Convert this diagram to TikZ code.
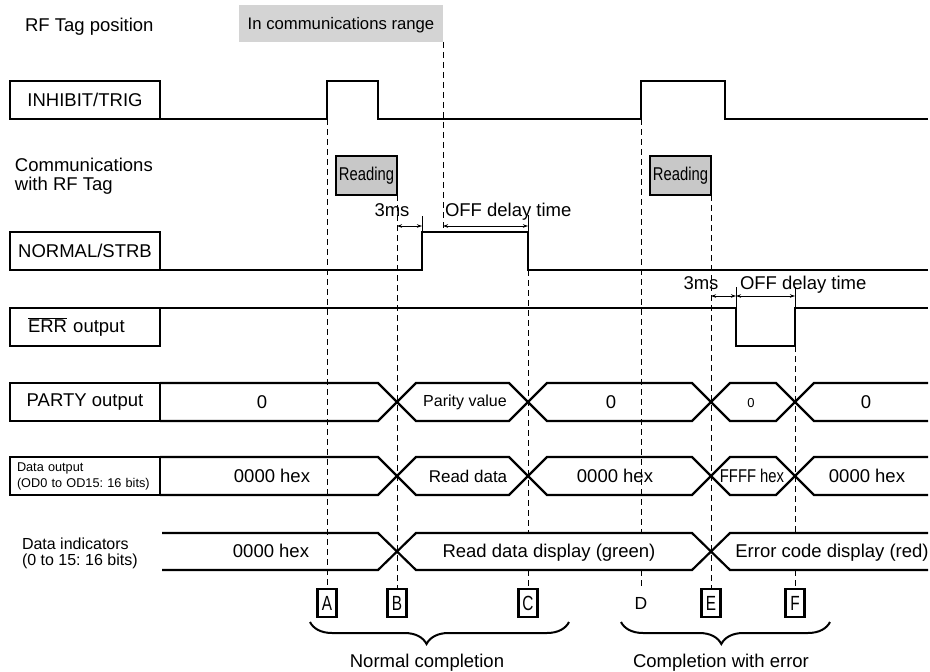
\documentclass[tikz,border=0pt]{standalone}
\usepackage{fontspec}
\usepackage{graphicx}
\setmainfont{Liberation Sans}
\frenchspacing
\usetikzlibrary{arrows.meta,decorations.pathreplacing}
\definecolor{commgrey}{HTML}{D4D4D4}
\definecolor{readgrey}{HTML}{C8C8C8}
\begin{document}
\begin{tikzpicture}[x=1pt,y=-1pt,
  every node/.style={inner sep=0pt, outer sep=0pt, font=\fontsize{18.5}{19}\selectfont},
  txt/.style={text depth=0pt},
  lblbox/.style={draw, line width=1.3pt, minimum width=150pt, minimum height=38pt, anchor=north west},
  sig/.style={line width=2.5pt, line join=miter},
  bus/.style={line width=2.2pt, line join=miter},
  guide/.style={line width=1pt, dash pattern=on 6pt off 4pt},
  dim/.style={line width=1pt, {Stealth[length=5pt,width=3.5pt]}-{Stealth[length=5pt,width=3.5pt]}},
  tick/.style={line width=1pt},
  readbox/.style={draw, line width=2.2pt, fill=readgrey, minimum width=61pt, minimum height=39pt, anchor=north west},
  letterbox/.style={draw, line width=2.2pt, minimum width=19pt, minimum height=28pt, font=\fontsize{20.5}{21}\selectfont},
  plainletter/.style={minimum width=19pt, minimum height=28pt, font=\fontsize{17.5}{18}\selectfont},
  brc/.style={line width=2pt, decorate},
]
\path[fill=white] (0,0) rectangle (930,672);
\useasboundingbox (0,0) rectangle (930,672);

% --- left labels
\node[txt, anchor=west] (rfpos) at (25,25) {RF Tag position};
\node[txt, anchor=west, align=left] (commlbl) at (15,174) {Communications\\with RF Tag};
\node[lblbox] (inh) at (10,81) {INHIBIT/TRIG};
\node[lblbox] (nor) at (10,232) {NORMAL/STRB};
\node[lblbox, text width=114pt, align=left] (err) at (10,308) {$\overline{\mbox{ERR}}$ output};
\node[lblbox] (par) at (10,383) {PARTY output};
\node[lblbox, text width=136pt, align=left, font=\fontsize{12.7}{16}\selectfont] (dout) at (10,457) {Data output\\(OD0 to OD15: 16 bits)};
\node[txt, anchor=west, align=left, font=\fontsize{16}{16}\selectfont] (dind) at (22,552) {Data indicators\\(0 to 15: 16 bits)};

% --- RF tag range
\node[txt, fill=commgrey, minimum width=204pt, minimum height=37pt, anchor=north west, font=\fontsize{16.7}{18}\selectfont] (range) at (239,5) {In communications range};

% --- reading boxes
\node[readbox] (r1) at (336,156) {\scalebox{0.8}[1]{Reading}};
\node[readbox] (r2) at (650,156) {\scalebox{0.8}[1]{Reading}};

% --- letter markers
\node[letterbox] (lA) at (327,603) {\scalebox{0.75}[1]{A}};
\node[letterbox] (lB) at (397,603) {\scalebox{0.75}[1]{B}};
\node[letterbox] (lC) at (528,603) {\scalebox{0.75}[1]{C}};
\node[plainletter] (lD) at (641,603) {D};
\node[letterbox] (lE) at (711,603) {\scalebox{0.75}[1]{E}};
\node[letterbox] (lF) at (795,603) {\scalebox{0.75}[1]{F}};

% --- waveforms
\draw[sig] (inh.south east) -- (327,119) -- (327,81) -- (378,81) -- (378,119) -- (641,119) -- (641,81) -- (725,81) -- (725,119) -- (928,119);
\draw[sig] (nor.south east) -- (422,270) -- (422,232) -- (528,232) -- (528,270) -- (928,270);
\draw[sig] (err.north east) -- (736,308) -- (736,346) -- (795,346) -- (795,308) -- (928,308);

% --- buses
\draw[bus] (par.north east) -- (378,383) -- (416,421) -- (509,421) -- (547,383) -- (692,383) -- (730,421) -- (776,421) -- (814,383) -- (928,383);
\draw[bus] (par.south east) -- (378,421) -- (416,383) -- (509,383) -- (547,421) -- (692,421) -- (730,383) -- (776,383) -- (814,421) -- (928,421);
\draw[bus] (dout.north east) -- (378,457) -- (416,495) -- (509,495) -- (547,457) -- (692,457) -- (730,495) -- (776,495) -- (814,457) -- (928,457);
\draw[bus] (dout.south east) -- (378,495) -- (416,457) -- (509,457) -- (547,495) -- (692,495) -- (730,457) -- (776,457) -- (814,495) -- (928,495);
\draw[bus] (162,533) -- (378,533) -- (416,570) -- (692,570) -- (730,533) -- (928,533);
\draw[bus] (162,570) -- (378,570) -- (416,533) -- (692,533) -- (730,570) -- (928,570);

% --- bus values
\node (p1) at (262,402) {0};
\node[font=\fontsize{16}{18}\selectfont] (p2) at (465,402) {Parity value};
\node (p3) at (611,402) {0};
\node[font=\fontsize{13}{15}\selectfont] (p4) at (751,403) {0};
\node (p5) at (866,402) {0};
\node (d1) at (272,476) {0000 hex};
\node[font=\fontsize{17}{18}\selectfont] (d2) at (468,476) {Read data};
\node (d3) at (615,476) {0000 hex};
\node (d4) at (752,476) {\scalebox{0.8}[1]{FFFF hex}};
\node (d5) at (867,476) {0000 hex};
\node (i1) at (271,551) {0000 hex};
\node[txt] (i2) at (549,551) {Read data display (green)};
\node[txt] (i3) at (832,551) {Error code display (red)};

% --- dashed guides
\draw[guide] (327,119) -- (lA.north);
\draw[guide] (r1.south east) -- (lB.north);
\draw[guide] (range.south east) -- (443,232);
\draw[guide] (528,270) -- (528,533);
\draw[guide] (528,570) -- (lC.north);
\draw[guide] (641,119) -- (641,533);
\draw[guide] (641,570) -- (lD.north);
\draw[guide] (r2.south east) -- (lE.north);
\draw[guide] (795,346) -- (795,533);
\draw[guide] (795,570) -- (lF.north);

% --- timing dimensions
\draw[tick] (422,216) -- (422,232);
\draw[dim] (397,226) -- (422,226);
\draw[tick] (528,215) -- (528,232);
\draw[dim] (443,226) -- (528,226);
\node[txt] (t3a) at (392,210) {3ms};
\node[txt, anchor=west] (toff1) at (445,210) {OFF delay time};

\draw[tick] (736,287) -- (736,308);
\draw[dim] (711,296) -- (736,296);
\draw[tick] (795,287) -- (795,308);
\draw[dim] (736,296) -- (795,296);
\node[txt] (t3b) at (701,283) {3ms};
\node[txt, anchor=west] (toff2) at (740,283) {OFF delay time};

% --- braces
\draw[brc, decoration={brace, mirror, amplitude=22pt, aspect=0.45}] (310,622) -- (569,622);
\draw[brc, decoration={brace, mirror, amplitude=22pt, aspect=0.48}] (621,622) -- (830,622);
\node[txt] (normal) at (427,661) {Normal completion};
\node[txt] (witherr) at (721,661) {Completion with error};
\end{tikzpicture}
\end{document}
